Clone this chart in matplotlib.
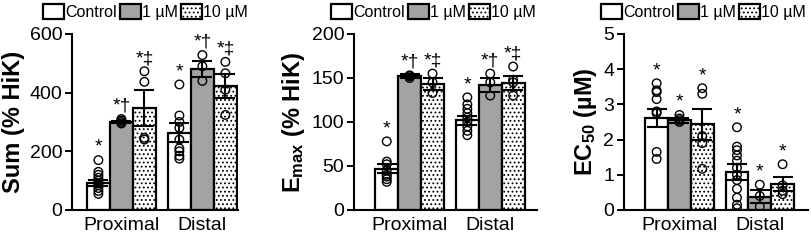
import numpy as np
import matplotlib
matplotlib.use('Agg')
import matplotlib.pyplot as plt

plt.rcParams['font.family'] = ['Liberation Sans', 'DejaVu Sans']
plt.rcParams['mathtext.fontset'] = 'custom'
plt.rcParams['mathtext.rm'] = 'Liberation Sans'
plt.rcParams['mathtext.bf'] = 'Liberation Sans:bold'
plt.rcParams['mathtext.it'] = 'Liberation Sans:italic'
plt.rcParams['hatch.linewidth'] = 0.8
plt.rcParams['hatch.color'] = '#222222'

# Data
regions = ['Proximal', 'Distal']
groups = ['Control', '1 µM', '10 µM']

sum_mean = [[91, 300, 347], [264, 480, 423]]
sum_err = [[10, 5, 62], [33, 27, 40]]
sum_pts = [
    [[170, 130, 120, 110, 100, 92, 85, 75, 65, 55], [310, 305, 300, 295], [473, 437, 246, 240]],
    [[428, 322, 300, 280, 240, 210, 200, 185, 175], [528, 490, 440], [505, 466, 410, 324]],
]
sum_marks = [['*', '*†', '*‡'], ['*', '*†', '*‡']]

emax_mean = [[47, 152, 143], [102, 142, 144]]
emax_err = [[5, 2, 7], [5, 8, 8]]
emax_pts = [
    [[78, 55, 52, 45, 40, 38, 35, 32], [153, 152, 150], [155, 145, 133]],
    [[128, 120, 115, 110, 105, 100, 95, 90, 85], [155, 145, 130], [163, 148, 145, 130]],
]
emax_marks = [['*', '*†', '*‡'], ['*', '*†', '*‡']]

ec50_mean = [[2.61, 2.55, 2.44], [1.08, 0.38, 0.73]]
ec50_err = [[0.26, 0.07, 0.44], [0.24, 0.19, 0.2]]
ec50_pts = [
    [[3.6, 3.4, 3.35, 3.15, 2.8, 2.75, 1.65, 1.45], [2.7, 2.6, 2.55, 2.5], [3.46, 3.3, 2.1, 1.9, 1.17]],
    [[2.35, 1.8, 1.7, 1.55, 1.4, 1.2, 1.0, 0.85, 0.6, 0.35, 0.15, 0.05], [0.72, 0.4, 0.1], [1.3, 0.7, 0.55, 0.45]],
]
ec50_marks = [['*', '*', '*'], ['*', '*', '*']]

colors = ['white', '#a3a3a3', 'white']
hatches = [None, None, '....']

fig = plt.figure(figsize=(8.12, 2.42), dpi=100)

panels = [
    dict(rect=[72 / 812, 32 / 242, 166 / 812, 176 / 242], xlim=(-0.61, 1.44),
         mean=sum_mean, err=sum_err, pts=sum_pts, marks=sum_marks,
         ylim=600, yticks=[0, 200, 400, 600], ylabel='Sum (% HiK)', legx=43 / 812),
    dict(rect=[354 / 812, 32 / 242, 183 / 812, 176 / 242], xlim=(-0.69, 1.58),
         mean=emax_mean, err=emax_err, pts=emax_pts, marks=emax_marks,
         ylim=200, yticks=[0, 50, 100, 150, 200], ylabel=r'$\mathbf{E_{max}}$ (% HiK)', legx=331 / 812),
    dict(rect=[624 / 812, 32 / 242, 184 / 812, 176 / 242], xlim=(-0.69, 1.6),
         mean=ec50_mean, err=ec50_err, pts=ec50_pts, marks=ec50_marks,
         ylim=5, yticks=[0, 1, 2, 3, 4, 5], ylabel=r'$\mathbf{EC_{50}}$ (µM)', legx=601 / 812),
]

w = 0.284
for p in panels:
    ax = fig.add_axes(p['rect'])
    handles = []
    for r in range(len(regions)):
        for g in range(len(groups)):
            x = r + (g - 1) * w
            m = p['mean'][r][g]
            e = p['err'][r][g]
            b = ax.bar(x, m, width=w, color=colors[g], edgecolor='black',
                       linewidth=1.6, hatch=hatches[g], zorder=2)
            if r == 0:
                handles.append(b)
            pts = p['pts'][r][g]
            ax.scatter([x] * len(pts), pts, s=38, facecolor='none',
                       edgecolor='black', linewidth=1.0, zorder=3)
            ax.errorbar(x, m, yerr=e, color='black', lw=1.5, capsize=7,
                        capthick=1.5, zorder=4)
            top = max(max(pts), m + e)
            ax.annotate(p['marks'][r][g], (x, top), xytext=(0, 3),
                        textcoords='offset points', ha='center', va='bottom',
                        fontsize=14)
    ax.set_xlim(*p['xlim'])
    ax.set_ylim(0, p['ylim'])
    ax.set_yticks(p['yticks'])
    ax.set_xticks([0, 1])
    ax.set_xticklabels(regions, fontsize=14)
    ax.tick_params(axis='x', length=0, pad=5)
    ax.tick_params(axis='y', labelsize=14, width=1.4, length=5, pad=2)
    for s in ['top', 'right']:
        ax.spines[s].set_visible(False)
    for s in ['left', 'bottom']:
        ax.spines[s].set_linewidth(1.5)
    ax.set_ylabel(p['ylabel'], fontsize=17, fontweight='bold', labelpad=3)
    fig.legend(handles, groups, loc='center left',
               bbox_to_anchor=(p['legx'], 230 / 242), ncol=3, frameon=False,
               fontsize=11.5, handlelength=1.3, handleheight=1.05,
               handletextpad=0.08, columnspacing=0.2, borderpad=0, borderaxespad=0)

fig.savefig('out.png', dpi=100)
